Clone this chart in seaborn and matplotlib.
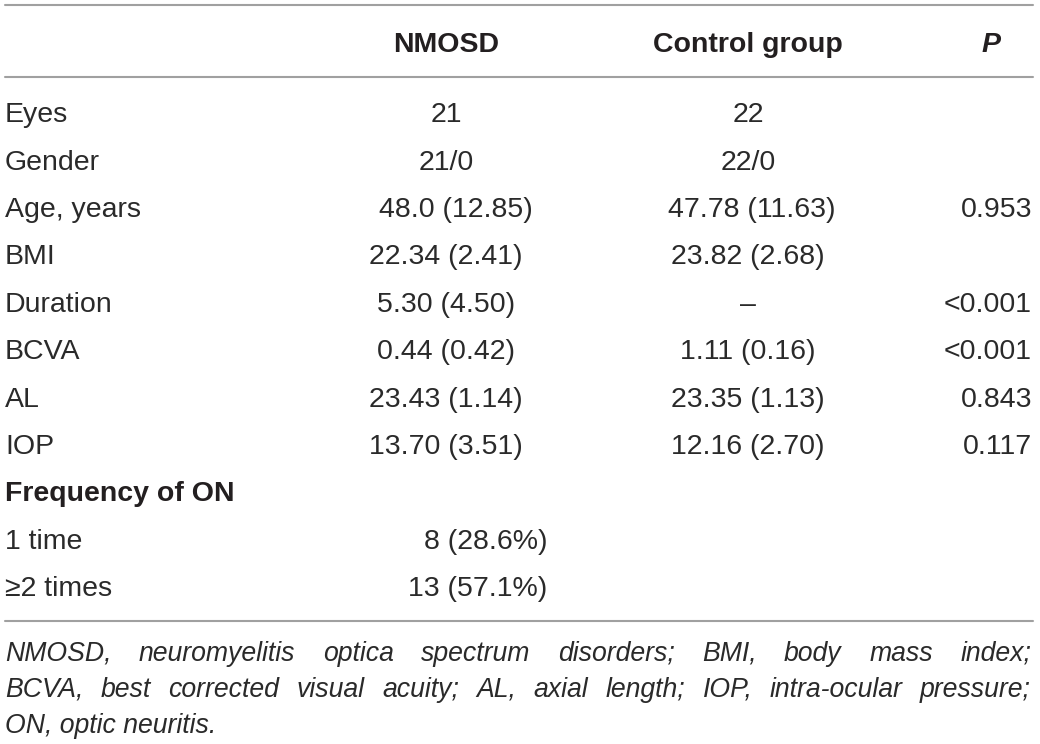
import matplotlib
matplotlib.use("Agg")
import matplotlib.pyplot as plt
import seaborn as sns

# ---------------- data ----------------
col_headers = ["NMOSD", "Control group", "P"]
row_labels = ["Eyes", "Gender", "Age, years", "BMI", "Duration", "BCVA", "AL", "IOP",
              "Frequency of ON", "1 time", "\u22652 times"]
row_bold = [False, False, False, False, False, False, False, False, True, False, False]
nmosd_vals = ["21", "21/0", "48.0 (12.85)", "22.34 (2.41)", "5.30 (4.50)", "0.44 (0.42)",
              "23.43 (1.14)", "13.70 (3.51)", "", "8 (28.6%)", "13 (57.1%)"]
control_vals = ["22", "22/0", "47.78 (11.63)", "23.82 (2.68)", "\u2013", "1.11 (0.16)",
                "23.35 (1.13)", "12.16 (2.70)", "", "", ""]
p_vals = ["", "", "0.953", "", "<0.001", "<0.001", "0.843", "0.117", "", "", ""]
footnote_lines = [
    "NMOSD, neuromyelitis optica spectrum disorders; BMI, body mass index;",
    "BCVA, best corrected visual acuity; AL, axial length; IOP, intra-ocular pressure;",
    "ON, optic neuritis.",
]
footnote_justify = [True, True, False]

# ---------------- layout ----------------
W, H = 1040, 744
sns.set_theme(style="white")
plt.rcParams["font.family"] = ["Liberation Sans", "DejaVu Sans"]

TXT = "#2a2a2a"
HDR = "#231f20"
RULE = "#a0a0a0"
FS = 20.5
FS_FOOT = 19.2
cap = 0.716 * FS * 100 / 72

fig = plt.figure(figsize=(W / 100, H / 100), dpi=100)
ax = fig.add_axes([0, 0, 1, 1])
ax.set_xlim(0, W)
ax.set_ylim(H, 0)
ax.axis("off")

# rules
for yy in [5, 77, 621]:
    sns.lineplot(x=[5, 1033], y=[yy, yy], color=RULE, linewidth=1.5, ax=ax)

# header
hy = 42 + cap / 2
ax.text(446, hy, col_headers[0], ha="center", va="baseline", fontsize=FS,
        fontweight="bold", color=HDR)
ax.text(748, hy, col_headers[1], ha="center", va="baseline", fontsize=FS,
        fontweight="bold", color=HDR)
ax.text(991, hy, col_headers[2], ha="center", va="baseline", fontsize=FS,
        fontweight="bold", style="italic", color=HDR)

# body rows
row0, step = 112, 47.4
for i, lab in enumerate(row_labels):
    yb = row0 + i * step + cap / 2
    ax.text(5, yb, lab, ha="left", va="baseline", fontsize=FS,
            color=HDR if row_bold[i] else TXT,
            fontweight="bold" if row_bold[i] else "normal")
    nv = nmosd_vals[i]
    if nv:
        if "%" in nv:
            ax.text(547, yb, nv, ha="right", va="baseline", fontsize=FS, color=TXT)
        else:
            cx = 456 if i == 2 else 446
            ax.text(cx, yb, nv, ha="center", va="baseline", fontsize=FS, color=TXT)
    cv = control_vals[i]
    if cv:
        cx = 752 if i == 2 else 748
        ax.text(cx, yb, cv, ha="center", va="baseline", fontsize=FS, color=TXT)
    pv = p_vals[i]
    if pv:
        ax.text(1032, yb, pv, ha="right", va="baseline", fontsize=FS, color=TXT)

# footnote (justified)
renderer = fig.canvas.get_renderer()
foot_y = [651, 687, 723]
capf = 0.716 * FS_FOOT * 100 / 72
left, right = 5, 1031
for line, yc, just in zip(footnote_lines, foot_y, footnote_justify):
    yb = yc + capf / 2
    if not just:
        ax.text(left, yb, line, ha="left", va="baseline", fontsize=FS_FOOT,
                style="italic", color=TXT)
        continue
    words = line.split(" ")
    arts = [ax.text(left, yb, w, ha="left", va="baseline", fontsize=FS_FOOT,
                    style="italic", color=TXT) for w in words]
    widths = [a.get_window_extent(renderer=renderer).width for a in arts]
    gap = (right - left - sum(widths)) / (len(words) - 1)
    x = left
    for a, w in zip(arts, widths):
        a.set_x(x)
        x += w + gap

fig.savefig("out.png", dpi=100, facecolor="white")
